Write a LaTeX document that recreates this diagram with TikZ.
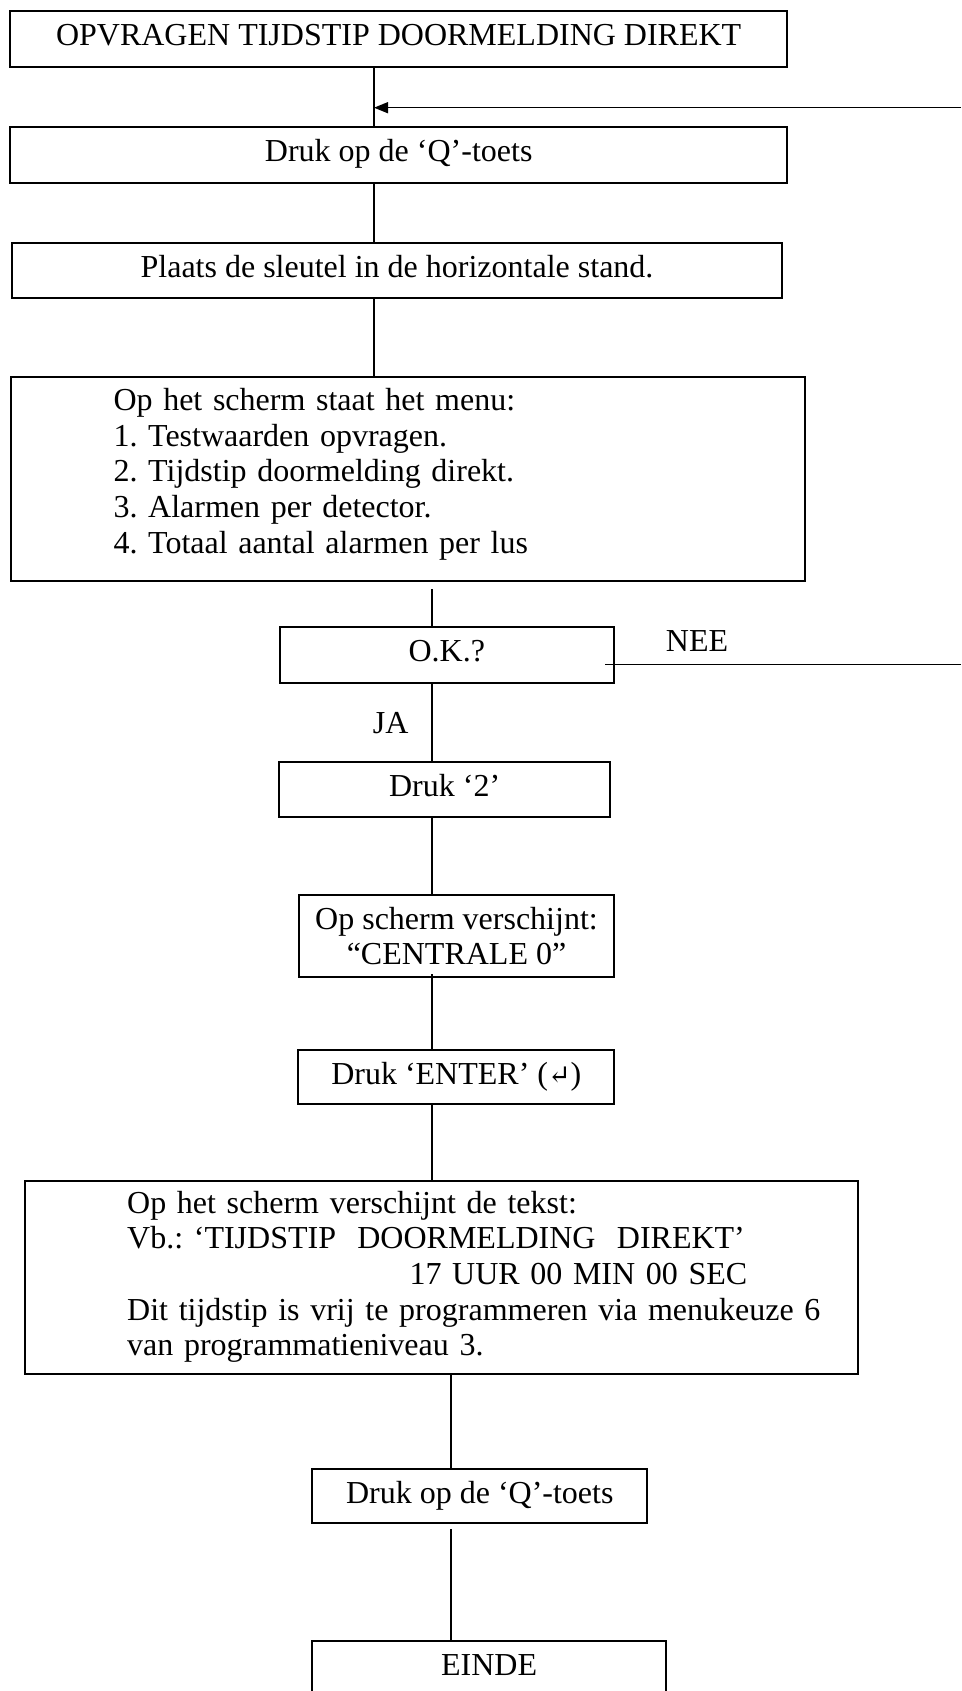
\documentclass[tikz,border=0pt]{standalone}
\usepackage{fontspec}
\setmainfont{Liberation Serif}
\newfontfamily\symf{DejaVu Serif}
\usetikzlibrary{arrows.meta}
\frenchspacing
\begin{document}
\frenchspacing
\begin{tikzpicture}[x=1pt,y=-1pt,
  box/.style={draw,line width=2pt,inner sep=0pt,font=\fontsize{32}{35.6}\selectfont},
  one/.style={text height=21pt,text depth=7pt},
  conn/.style={line width=1.4pt},
  txt/.style={inner sep=0pt,font=\fontsize{32}{35.6}\selectfont}]
\useasboundingbox (0,0) rectangle (961,1691);
% boxes
\node[box,one,minimum width=776.6pt,minimum height=56pt] (title) at (398.7,38.7) {OPVRAGEN TIJDSTIP DOORMELDING DIREKT};
\node[box,one,minimum width=776.6pt,minimum height=56pt] (q1) at (398.7,154.7) {Druk op de ‘Q’-toets};
\node[box,one,minimum width=770.9pt,minimum height=55.6pt] (plaats) at (397,270.5) {Plaats de sleutel in de horizontale stand.};
\node[box,minimum width=794.9pt,minimum height=204.3pt] (menu) at (408,478.85) {};
\node[txt,anchor=base west,text width=700pt,align=left] (menutext) at (113.3,410.7)
  {Op het scherm staat het menu:\\1. Testwaarden opvragen.\\2. Tijdstip doormelding direkt.\\3. Alarmen per detector.\\4. Totaal aantal alarmen per lus};
\node[box,one,minimum width=333.7pt,minimum height=56pt] (ok) at (446.85,654.7) {O.K.?};
\node[box,one,minimum width=330.7pt,minimum height=55pt] (druk2) at (444.65,789.2) {Druk ‘2’};
\node[box,align=center,minimum width=315pt,minimum height=82pt] (scherm) at (456.5,936) {Op scherm verschijnt:\\“CENTRALE 0”};
\node[box,one,minimum width=316pt,minimum height=54.3pt] (enter) at (456.3,1077.15) {Druk ‘ENTER’ ({\symf\fontsize{27}{35.6}\selectfont ↵})};
\node[box,minimum width=833.5pt,minimum height=192.6pt] (big) at (441.25,1277.3) {};
\node[txt,anchor=base west,text width=760pt,align=left] (bigtext) at (127,1213.3)
  {Op het scherm verschijnt de tekst:\\Vb.: ‘TIJDSTIP\ \ DOORMELDING\ \ DIREKT’\\\hspace*{282.3pt}17 UUR 00 MIN 00 SEC\\Dit tijdstip is vrij te programmeren via menukeuze 6\\van programmatieniveau 3.};
\node[box,one,minimum width=335pt,minimum height=54.3pt] (q2) at (479.8,1496.15) {Druk op de ‘Q’-toets};
\node[box,one,minimum width=353.7pt,minimum height=55pt] (einde) at (489.15,1668.5) {EINDE};
% labels
\node[txt,anchor=base] (ja) at (390.6,733.5) {JA};
\node[txt,anchor=base] (nee) at (697,651.7) {NEE};
% helper coordinates
\coordinate (c1) at (374,0);
\coordinate (c2) at (431.8,0);
\coordinate (c3) at (451,0);
\coordinate (join) at (374,107.7);
\coordinate (retin) at (961,107.7);
\coordinate (neeout) at (961,664.3);
% connectors
\draw[conn] (title.south -| c1) -- (q1.north -| c1);
\draw[conn,-{Triangle[length=14pt,width=11pt]}] (retin) -- (join);
\draw[conn] (q1.south -| c1) -- (plaats.north -| c1);
\draw[conn] (plaats.south -| c1) -- (menu.north -| c1);
\draw[conn] ([yshift=-7pt]menu.south -| c2) -- (ok.north -| c2);
\draw[conn] (ok.south -| c2) -- (druk2.north -| c2);
\draw[conn] (neeout) -- ([xshift=-10pt]ok.east |- neeout);
\draw[conn] (druk2.south -| c2) -- (scherm.north -| c2);
\draw[conn] ([yshift=4pt]scherm.south -| c2) -- (enter.north -| c2);
\draw[conn] (enter.south -| c2) -- (big.north -| c2);
\draw[conn] (big.south -| c3) -- (q2.north -| c3);
\draw[conn] ([yshift=-4.5pt]q2.south -| c3) -- (einde.north -| c3);
\end{tikzpicture}
\end{document}
